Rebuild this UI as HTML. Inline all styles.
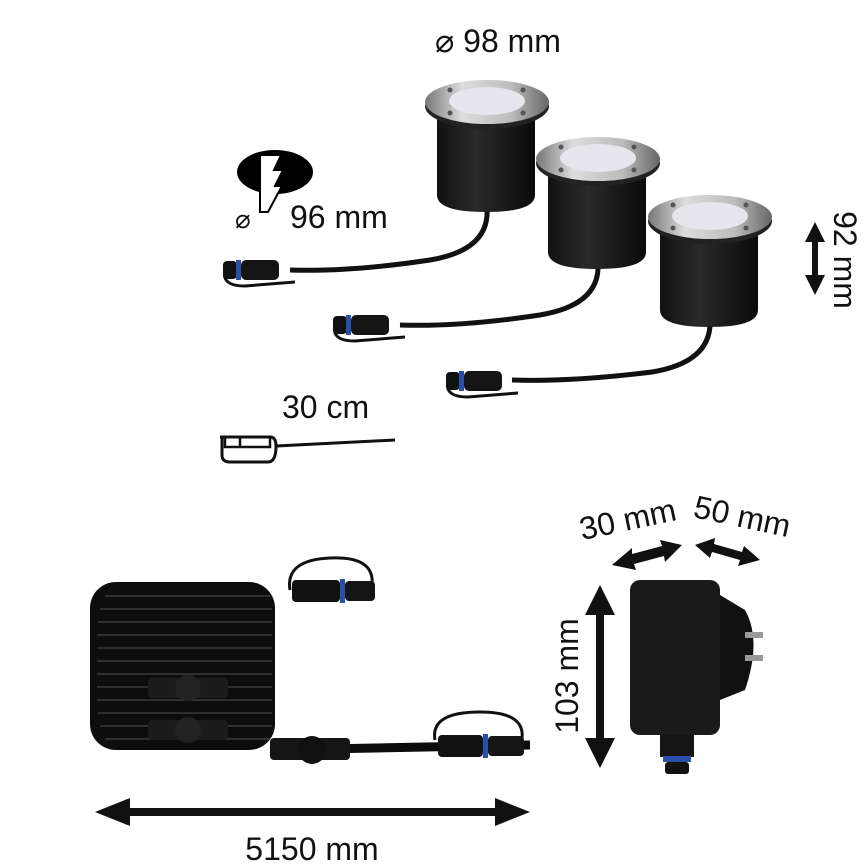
<!DOCTYPE html><html><head><style>body{margin:0;background:#fff}svg{display:block}text{font-family:"Liberation Sans",sans-serif;font-size:32px;fill:#111}</style></head><body>
<svg width="865" height="866" viewBox="0 0 865 866" xmlns="http://www.w3.org/2000/svg">
<defs>
<linearGradient id="steel" x1="0" x2="1"><stop offset="0" stop-color="#777"/><stop offset=".3" stop-color="#ddd"/><stop offset=".7" stop-color="#bbb"/><stop offset="1" stop-color="#666"/></linearGradient>
<linearGradient id="body" x1="0" x2="1"><stop offset="0" stop-color="#111"/><stop offset=".4" stop-color="#2a2a2a"/><stop offset="1" stop-color="#0a0a0a"/></linearGradient>
<g id="lamp">
<path d="M437 110 L437 195 Q437 212 486 212 Q535 212 535 195 L535 110 Z" fill="url(#body)"/>
<ellipse cx="487" cy="106" rx="62" ry="23" fill="#222"/>
<ellipse cx="487" cy="102" rx="62" ry="22" fill="url(#steel)"/>
<ellipse cx="487" cy="101" rx="38" ry="14" fill="#e6e6ec"/>
<circle cx="450" cy="90" r="2.5" fill="#555"/><circle cx="523" cy="90" r="2.5" fill="#555"/><circle cx="450" cy="113" r="2.5" fill="#555"/><circle cx="523" cy="113" r="2.5" fill="#555"/>
</g>
<g id="conn">
<path d="M-30 0 Q-34 16 -10 16 L40 12" stroke="#111" stroke-width="3" fill="none"/>
<rect x="-32" y="-9" width="14" height="18" rx="4" fill="#111"/>
<rect x="-19" y="-10" width="5" height="20" fill="#2a4fa8"/>
<rect x="-14" y="-10" width="38" height="20" rx="5" fill="#151515"/>
</g>
</defs>
<text x="435" y="52">⌀ 98 mm</text>
<path d="M487 208 Q490 250 430 260 Q350 272 290 270" stroke="#111" stroke-width="5" fill="none"/>
<path d="M598 264 Q600 305 540 315 Q460 327 400 325" stroke="#111" stroke-width="5" fill="none"/>
<path d="M710 320 Q712 362 652 372 Q572 382 512 380" stroke="#111" stroke-width="5" fill="none"/>
<use href="#lamp"/>
<use href="#lamp" transform="translate(111,57)"/>
<use href="#lamp" transform="translate(223,115)"/>
<use href="#conn" transform="translate(255,270)"/>
<use href="#conn" transform="translate(365,325)"/>
<use href="#conn" transform="translate(478,381)"/>
<ellipse cx="275" cy="172" rx="38" ry="22" fill="#000"/>
<path d="M269 155 L281 155 L274 170 L283 170 L275 186 L282 186 L268 212 L260 212 L260 155 Z" fill="#fff" stroke="#000" stroke-width="2"/>
<text x="235" y="228" style="font-size:26px">⌀</text>
<text x="290" y="228">96 mm</text>
<text x="282" y="418">30 cm</text>
<path d="M220 437 L270 437 Q276 437 276 446 L395 440" stroke="#111" stroke-width="3" fill="none"/>
<path d="M222 437 L222 455 Q222 462 230 462 L268 462 Q276 462 276 446" stroke="#111" stroke-width="3" fill="none"/>
<rect x="225" y="437" width="45" height="10" fill="none" stroke="#111" stroke-width="2.5"/>
<line x1="240" y1="437" x2="240" y2="447" stroke="#111" stroke-width="2.5"/>
<path d="M815 222 L805 242 L812 242 L812 275 L805 275 L815 295 L825 275 L818 275 L818 242 L825 242 Z" fill="#111"/>
<text transform="translate(834,260) rotate(90)" text-anchor="middle">92 mm</text>
<rect x="90" y="582" width="185" height="168" rx="26" fill="#0d0d0d"/>
<g stroke="#3a3a3a" stroke-width="1.5">
<path d="M105 596 H270 M100 609 H272 M98 622 H272 M97 635 H272 M97 648 H272 M97 661 H272 M97 674 H272 M97 687 H272 M97 700 H272 M98 713 H272 M100 726 H272 M105 739 H270"/>
</g>
<path d="M270 750 L530 745" stroke="#0c0c0c" stroke-width="9"/>
<path d="M290 590 Q285 560 330 558 Q375 556 372 585" stroke="#111" stroke-width="3" fill="none"/>
<rect x="292" y="580" width="48" height="22" rx="4" fill="#111"/><rect x="340" y="579" width="5" height="24" fill="#2a4fa8"/><rect x="345" y="581" width="30" height="20" rx="4" fill="#151515"/>
<rect x="148" y="678" width="80" height="20" rx="4" fill="#1c1c1c"/><circle cx="188" cy="688" r="13" fill="#222"/>
<rect x="148" y="720" width="80" height="20" rx="4" fill="#1c1c1c"/><circle cx="188" cy="730" r="13" fill="#222"/>
<rect x="270" y="738" width="80" height="22" rx="4" fill="#151515"/><circle cx="312" cy="750" r="14" fill="#111"/>
<path d="M435 740 Q430 712 480 712 Q525 712 522 738" stroke="#111" stroke-width="3" fill="none"/>
<rect x="438" y="735" width="45" height="22" rx="4" fill="#111"/><rect x="483" y="734" width="5" height="24" fill="#2a4fa8"/><rect x="488" y="736" width="36" height="20" rx="4" fill="#151515"/>
<path d="M95 812 L130 798 L130 808 L495 808 L495 798 L530 812 L495 826 L495 816 L130 816 L130 826 Z" fill="#111"/>
<text x="312" y="860" text-anchor="middle">5150 mm</text>
<text transform="translate(578,676) rotate(-90)" text-anchor="middle">103 mm</text>
<path d="M600 585 L585 615 L596 615 L596 738 L585 738 L600 768 L615 738 L604 738 L604 615 L615 615 Z" fill="#111"/>
<text transform="translate(630,530) rotate(-12)" text-anchor="middle">30 mm</text>
<text transform="translate(740,527) rotate(12)" text-anchor="middle">50 mm</text>
<path d="M612 565 L632 548 L632 554 L662 546 L660 540 L682 545 L665 562 L664 556 L634 564 L636 570 Z" fill="#111"/>
<path d="M695 545 L715 538 L714 544 L742 552 L744 546 L760 560 L738 566 L740 560 L712 552 L710 558 Z" fill="#111"/>
<rect x="630" y="580" width="90" height="155" rx="10" fill="#1a1a1a"/>
<path d="M720 595 L745 610 Q762 640 745 690 L720 700 Z" fill="#111"/>
<rect x="745" y="632" width="18" height="6" fill="#999"/><rect x="745" y="655" width="18" height="6" fill="#999"/>
<rect x="660" y="735" width="34" height="22" fill="#151515"/>
<rect x="663" y="756" width="28" height="6" fill="#2a4fa8"/>
<rect x="665" y="762" width="24" height="12" rx="3" fill="#111"/>
</svg></body></html>
